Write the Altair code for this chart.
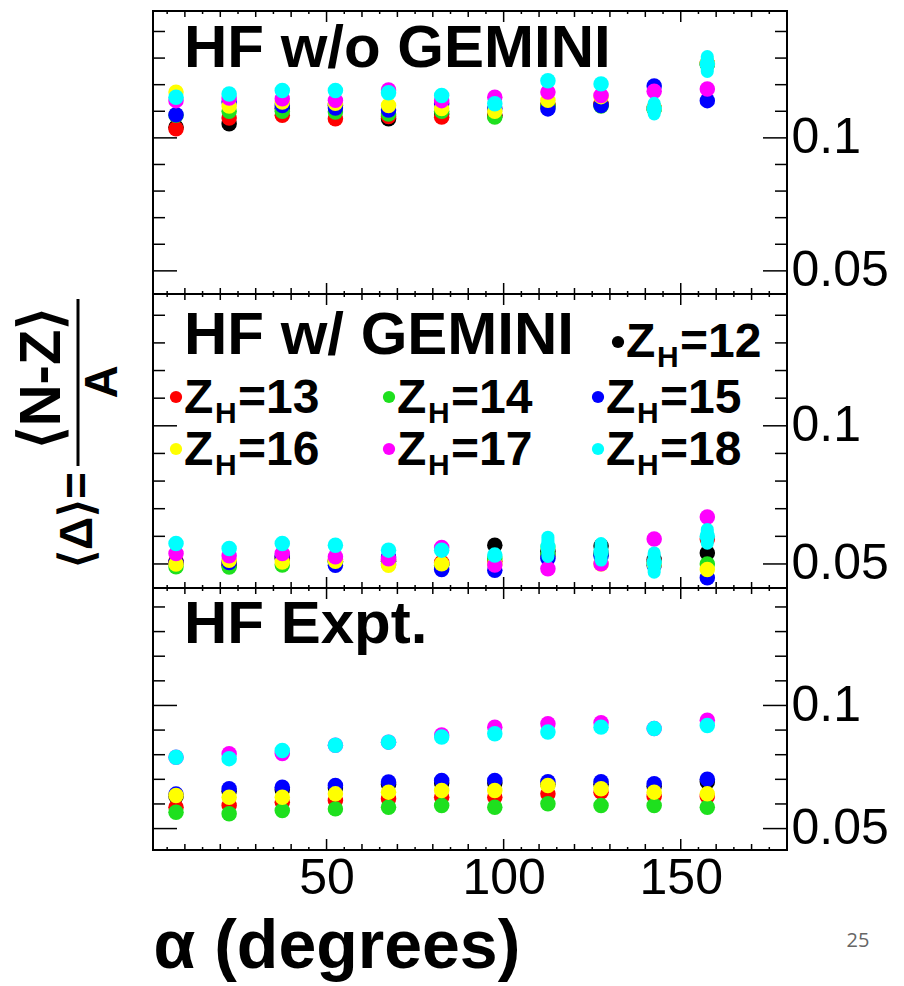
import altair as alt
import pandas as pd

# ---------------- data ----------------
alpha = [7.5, 22.5, 37.5, 52.5, 67.5, 82.5, 97.5, 112.5, 127.5, 142.5, 157.5]
z_h = ["12", "13", "14", "15", "16", "17", "18"]
z_colors = ["#000000", "#ff0000", "#1ee01e", "#0000ff", "#ffff00", "#ff00ff", "#00ffff"]

# HF w/o GEMINI
nogem_12 = [0.1040, 0.1053, 0.1110, 0.1122, 0.1072, 0.1090, 0.1085, 0.1120, 0.1125, 0.1110, 0.1278]
nogem_13 = [0.1034, 0.1075, 0.1085, 0.1072, 0.1080, 0.1078, 0.1082, 0.1125, 0.1128, 0.1112, 0.1280]
nogem_14 = [0.1085, 0.1100, 0.1100, 0.1097, 0.1090, 0.1100, 0.1078, 0.1118, 0.1120, 0.1108, 0.1276]
nogem_15 = [0.1087, 0.1135, 0.1122, 0.1112, 0.1105, 0.1128, 0.1110, 0.1109, 0.1122, 0.1195, 0.1140]
nogem_16 = [0.1172, 0.1120, 0.1135, 0.1130, 0.1122, 0.1110, 0.1100, 0.1141, 0.1155, 0.1112, 0.1280]
nogem_17 = [0.1140, 0.1150, 0.1147, 0.1141, 0.1180, 0.1140, 0.1153, 0.1172, 0.1159, 0.1175, 0.1184]
nogem_18 = [0.1153, 0.1165, 0.1178, 0.1178, 0.1170, 0.1159, 0.1128, 0.1215, 0.1203, 0.1110, 0.1278]
nogem_18_err = [0, 0, 0, 0, 0, 0, 0, 0, 0, 0.0020, 0.0028]

# HF w/ GEMINI
gem_12 = [0.0505, 0.0495, 0.0520, 0.0510, 0.0510, 0.0500, 0.0568, 0.0545, 0.0565, 0.0515, 0.0540]
gem_13 = [0.0510, 0.0500, 0.0525, 0.0515, 0.0515, 0.0505, 0.0510, 0.0530, 0.0540, 0.0510, 0.0590]
gem_14 = [0.0490, 0.0489, 0.0496, 0.0505, 0.0500, 0.0495, 0.0520, 0.0535, 0.0535, 0.0500, 0.0500]
gem_15 = [0.0505, 0.0505, 0.0530, 0.0495, 0.0525, 0.0480, 0.0477, 0.0520, 0.0530, 0.0495, 0.0450]
gem_16 = [0.0500, 0.0513, 0.0507, 0.0510, 0.0495, 0.0501, 0.0500, 0.0560, 0.0500, 0.0500, 0.0480]
gem_17 = [0.0538, 0.0530, 0.0538, 0.0526, 0.0519, 0.0560, 0.0496, 0.0483, 0.0501, 0.0590, 0.0670]
gem_18 = [0.0574, 0.0556, 0.0574, 0.0568, 0.0550, 0.0550, 0.0532, 0.0562, 0.0544, 0.0505, 0.0600]
gem_18_err = [0, 0, 0, 0, 0, 0, 0, 0.0035, 0.0030, 0.0035, 0.0025]

# HF Expt.
exp_12 = [0.0630, 0.0652, 0.0658, 0.0665, 0.0679, 0.0685, 0.0685, 0.0680, 0.0680, 0.0672, 0.0690]
exp_13 = [0.0587, 0.0594, 0.0607, 0.0614, 0.0621, 0.0627, 0.0627, 0.0641, 0.0648, 0.0630, 0.0630]
exp_14 = [0.0566, 0.0560, 0.0573, 0.0580, 0.0587, 0.0594, 0.0587, 0.0601, 0.0594, 0.0594, 0.0587]
exp_15 = [0.0640, 0.0662, 0.0668, 0.0675, 0.0689, 0.0695, 0.0695, 0.0690, 0.0690, 0.0682, 0.0700]
exp_16 = [0.0634, 0.0627, 0.0627, 0.0641, 0.0648, 0.0655, 0.0655, 0.0675, 0.0662, 0.0648, 0.0641]
exp_17 = [0.0790, 0.0804, 0.0805, 0.0838, 0.0851, 0.0880, 0.0912, 0.0926, 0.0930, 0.0906, 0.0940]
exp_18 = [0.0790, 0.0784, 0.0817, 0.0838, 0.0851, 0.0872, 0.0885, 0.0892, 0.0912, 0.0906, 0.0919]
exp_18_err = [0, 0, 0, 0, 0, 0, 0, 0, 0, 0, 0]

# axis tick values
x_ticks_5 = [5, 15, 25, 35, 45, 55, 65, 75, 85, 95, 105, 115, 125, 135, 145, 155, 165, 175]
x_ticks_10 = [10, 20, 30, 40, 60, 70, 80, 90, 110, 120, 130, 140, 160, 170]
x_ticks_50 = [50, 100, 150]
y_ticks_minor = [0.06, 0.07, 0.08, 0.09, 0.11, 0.12, 0.13, 0.14]
y_ticks_major = [0.05, 0.1]

# ---------------- layout constants ----------------
W = 634
H_TOP, H_MID, H_BOT = 283, 294, 262
X_DOM = [1, 180]
Y_DOM = [0.0413, 0.1477]
FONT = "Liberation Sans"

one = pd.DataFrame({"k": [0]})


def long_df(series):
    rows = []
    for z, vals in zip(z_h, series):
        for a, v in zip(alpha, vals):
            rows.append({"alpha": a, "delta": v, "zh": z})
    return pd.DataFrame(rows)


def err_df(vals, errs):
    return pd.DataFrame({
        "alpha": alpha,
        "lo": [v - e for v, e in zip(vals, errs)],
        "hi": [v + e for v, e in zip(vals, errs)],
        "e": errs,
    })


def txt(s, x, y, size, weight="bold", align="left", baseline="alphabetic",
        angle=0, color="black", font=FONT):
    kw = dict(text=s, fontSize=size, fontWeight=weight, align=align,
              baseline=baseline, color=color, font=font)
    if angle:
        kw["angle"] = angle
    return alt.Chart(one).mark_text(**kw).encode(x=alt.value(x), y=alt.value(y))


def dot(x, y, color, size=150):
    return alt.Chart(one).mark_circle(size=size, color=color, opacity=1).encode(
        x=alt.value(x), y=alt.value(y))


def panel(df, edf, h, label, label_base, bottom=False, extras=()):
    xs = alt.Scale(domain=X_DOM, nice=False, zero=False)
    ys = alt.Scale(domain=Y_DOM, nice=False, zero=False)
    if bottom:
        xaxis = alt.Axis(values=x_ticks_50, ticks=False, domain=False, grid=False,
                         labelFontSize=50, labelPadding=3, labelColor="black",
                         labelFlush=False, labelFont=FONT,
                         title="α (degrees)", titleFontSize=68, titleFontWeight="bold",
                         titleColor="black", titleFont=FONT, titleAnchor="start",
                         titleAlign="left", titleBaseline="alphabetic",
                         titleX=0, titleY=117)
    else:
        xaxis = None
    yaxis = alt.Axis(orient="right", values=y_ticks_major, format=".2~f",
                     ticks=False, domain=False, grid=False, labelFontSize=50,
                     labelPadding=4, labelColor="black", labelFont=FONT, title=None)

    def X(f):
        return alt.X(f + ":Q", scale=xs, axis=xaxis)

    def Y(f):
        return alt.Y(f + ":Q", scale=ys, axis=yaxis)

    layers = []
    for vals, L in ((x_ticks_5, 3), (x_ticks_10, 6), (x_ticks_50, 11)):
        r = alt.Chart(pd.DataFrame({"xt": vals})).mark_rule(color="black", strokeWidth=1.5)
        layers.append(r.encode(x=X("xt"), y=alt.value(0), y2=alt.value(L)))
        layers.append(r.encode(x=X("xt"), y=alt.value(h), y2=alt.value(h - L)))
    for vals, L in ((y_ticks_minor, 12), (y_ticks_major, 24)):
        r = alt.Chart(pd.DataFrame({"yt": vals})).mark_rule(color="black", strokeWidth=1.5)
        layers.append(r.encode(y=Y("yt"), x=alt.value(0), x2=alt.value(L)))
        layers.append(r.encode(y=Y("yt"), x=alt.value(W), x2=alt.value(W - L)))

    pts = alt.Chart(df).mark_circle(size=240, opacity=1).encode(
        x=X("alpha"), y=Y("delta"),
        color=alt.Color("zh:N", scale=alt.Scale(domain=z_h, range=z_colors), legend=None),
    )
    layers.append(pts)
    # spread of the Z_H=18 points (drawn on top, as in the reference)
    bars = alt.Chart(edf).transform_filter("datum.e > 0").mark_rule(
        color=z_colors[-1], strokeWidth=13, strokeCap="round").encode(
        x=X("alpha"), y=Y("lo"), y2="hi:Q")
    layers.append(bars)
    layers.append(txt(label, 31, label_base, 60))
    layers.extend(extras)
    return alt.layer(*layers).properties(width=W, height=h)


# ---------------- legend + y title (middle panel) ----------------
mid_extras = []
legend_pos = [
    ("12", 465, 48, 63),
    ("13", 23, 103, 119), ("14", 236, 103, 119), ("15", 445, 103, 119),
    ("16", 23, 155, 171), ("17", 236, 155, 171), ("18", 445, 155, 171),
]
for z, dx, dy, base in legend_pos:
    col = z_colors[z_h.index(z)]
    mid_extras.append(dot(dx, dy, col))
    mid_extras.append(txt("Z", dx + 8, base, 48))
    mid_extras.append(txt("H", dx + 39, base + 10, 30))
    mid_extras.append(txt("=" + z, dx + 62, base, 48))

# y-axis title as a fraction:  <Δ> = <N-Z> / A
mid_extras.append(txt("⟨Δ⟩=", -75, 226, 46, align="center", baseline="middle", angle=270))
mid_extras.append(txt("⟨N-Z⟩", -110, 84, 58, align="center", baseline="middle", angle=270))
mid_extras.append(txt("A", -50, 88, 46, align="center", baseline="middle", angle=270))
mid_extras.append(
    alt.Chart(one).mark_rule(color="black", strokeWidth=3).encode(
        x=alt.value(-75), y=alt.value(5), y2=alt.value(172))
)

bot_extras = [txt("25", 705, 353, 20, weight="normal", align="center",
                  baseline="middle", color="#666666", font="Open Sans")]

top = panel(long_df([nogem_12, nogem_13, nogem_14, nogem_15, nogem_16, nogem_17, nogem_18]),
            err_df(nogem_18, nogem_18_err), H_TOP, "HF w/o GEMINI", 56)
mid = panel(long_df([gem_12, gem_13, gem_14, gem_15, gem_16, gem_17, gem_18]),
            err_df(gem_18, gem_18_err), H_MID, "HF w/ GEMINI", 60, extras=mid_extras)
bot = panel(long_df([exp_12, exp_13, exp_14, exp_15, exp_16, exp_17, exp_18]),
            err_df(exp_18, exp_18_err), H_BOT, "HF Expt.", 55, bottom=True, extras=bot_extras)

chart = (
    alt.vconcat(top, mid, bot, spacing=0, bounds="flush")
    .properties(padding={"left": 13, "top": 9, "right": 5, "bottom": 5},
                background="white")
    .configure(font=FONT)
    .configure_view(stroke="black", strokeWidth=2)
)

chart.save("out.html", embed_options={"renderer": "svg", "actions": False})
